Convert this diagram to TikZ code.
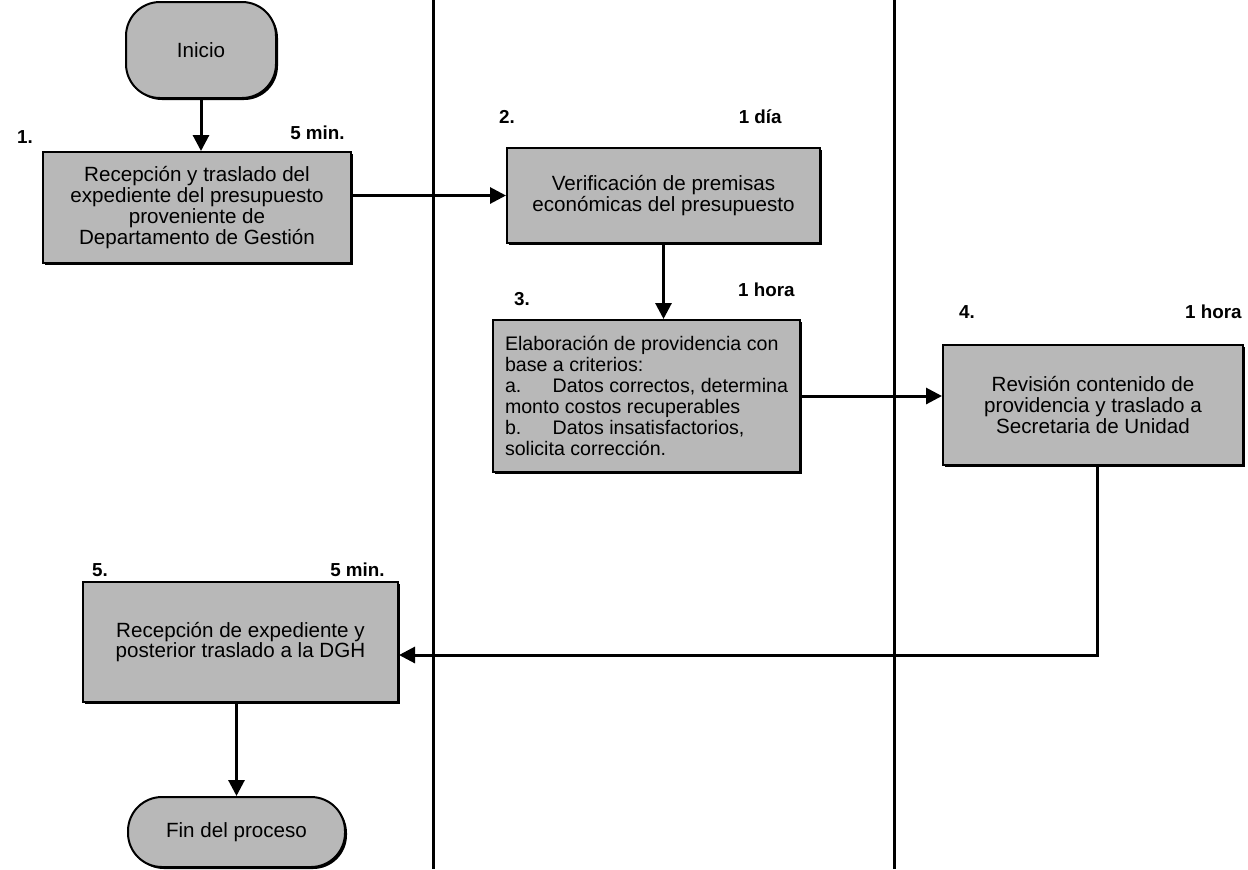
\documentclass[tikz,border=0pt]{standalone}
\usepackage{fontspec}
\setmainfont{Liberation Sans}
\usetikzlibrary{positioning,arrows.meta,shadows}

\begin{document}
\begin{tikzpicture}[
  font=\fontsize{10.3}{10.4}\selectfont, x=0.5pt, y=-0.5pt,
  box/.style={draw, line width=1pt, fill=black!28, align=center, inner sep=2pt,
    drop shadow={shadow xshift=1pt, shadow yshift=-1pt, fill=black, opacity=1}},
  term/.style={box, rounded corners=17pt},
  num/.style={font=\fontsize{9.4}{10}\selectfont\bfseries, inner sep=0pt},
  lane/.style={line width=1.5pt},
  ar/.style={-{Triangle[length=8pt,width=8pt]}, line width=1.5pt},
]
\useasboundingbox (0,0) rectangle (1248,869);
% --- swimlane separators ---
\draw[lane] (433,0) -- (433,869);
\draw[lane] (894,0) -- (894,869);
% --- first lane ---
\node[term, minimum width=75pt, minimum height=48pt] (ini) at (201,50) {Inicio};
\node[box, minimum width=154pt, minimum height=55.5pt] (b1) at (197,207.5)
  {Recepción y traslado del\\expediente del presupuesto\\proveniente de\\Departamento de Gestión};
\node[num] (n1) at (25,137) {1.};
\node[num, anchor=east] (t1) at (345,133) {5 min.};
% --- second lane ---
\node[box, minimum width=156.5pt, minimum height=47.5pt] (b2) at (663.5,195.5)
  {Verificación de premisas\\económicas del presupuesto};
\node[num] (n2) at (507,117) {2.};
\node[num, anchor=east] (t2) at (782,117) {1 día};
\node[box, align=left, minimum width=153.5pt, minimum height=76pt,
  font=\fontsize{9.8}{10.5}\selectfont] (b3) at (646.5,396)
  {Elaboración de providencia con\\base a criterios:\\a.\hspace{1.6em}Datos correctos, determina\\monto costos recuperables\\b.\hspace{1.6em}Datos insatisfactorios,\\solicita corrección.};
\node[num] (n3) at (522,299) {3.};
\node[num, anchor=east] (t3) at (795,290) {1 hora};
% --- third lane ---
\node[box, minimum width=150pt, minimum height=60pt] (b4) at (1093,405)
  {Revisión contenido de\\providencia y traslado a\\Secretaria de Unidad};
\node[num] (n4) at (967,312) {4.};
\node[num, anchor=east] (t4) at (1242,312) {1 hora};
% --- back to first lane ---
\node[box, minimum width=157.5pt, minimum height=60pt] (b5) at (240.5,642)
  {Recepción de expediente y\\posterior traslado a la DGH};
\node[num] (n5) at (100,570) {5.};
\node[num, anchor=east] (t5) at (385,570) {5 min.};
\node[term, minimum width=108.5pt, minimum height=35pt] (fin) at (236.5,832) {Fin del proceso};
% --- connectors ---
\coordinate (turn) at (1097,655);
\draw[ar] (ini) -- (ini |- b1.north);
\draw[ar] (b1.east |- b2) -- (b2.west);
\draw[ar] (b2) -- (b2.south |- b3.north);
\draw[ar] (b3.east) -- (b3.east -| b4.west);
\draw[ar] (b4.south -| turn) -- (turn) -- (turn -| b5.east);
\draw[ar] (b5.south -| fin) -- (fin);
\end{tikzpicture}
\end{document}
